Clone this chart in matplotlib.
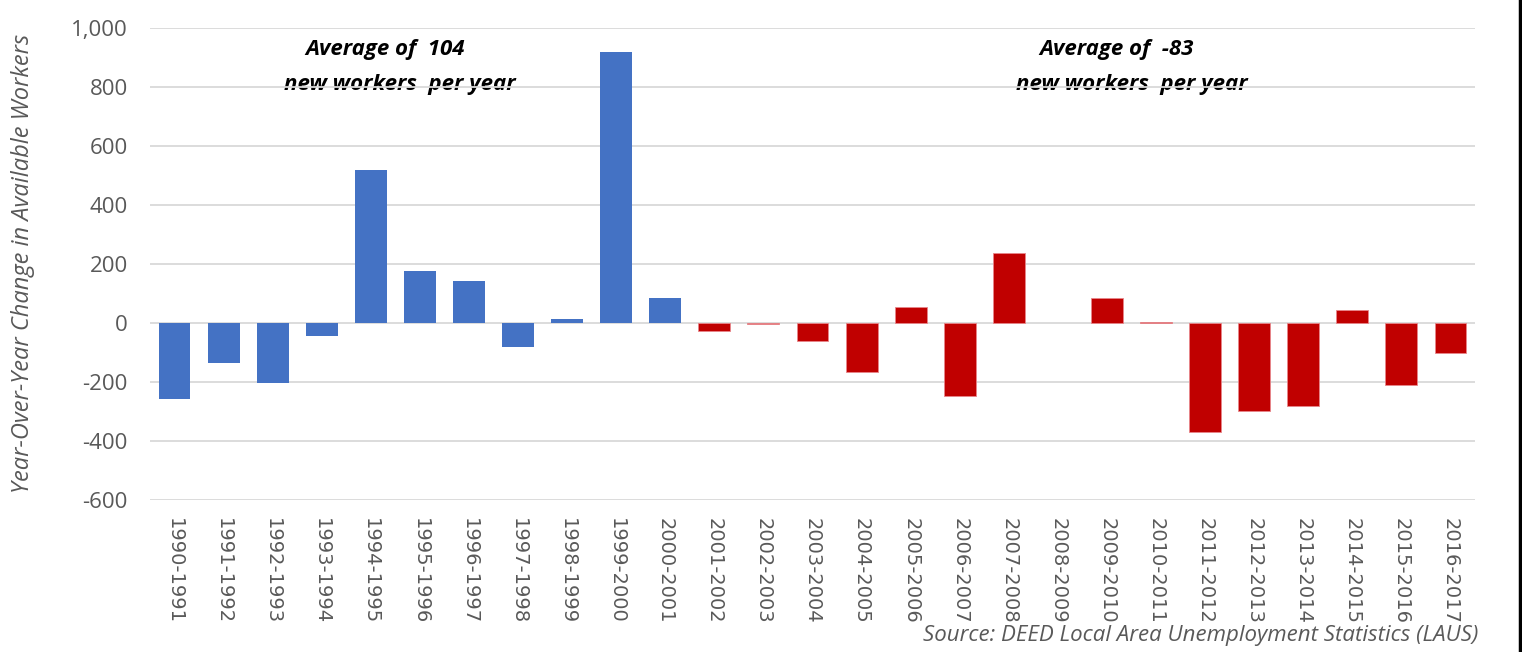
import matplotlib
matplotlib.use("Agg")
import matplotlib.pyplot as plt
from matplotlib.lines import Line2D

periods = ["1990-1991", "1991-1992", "1992-1993", "1993-1994", "1994-1995", "1995-1996",
           "1996-1997", "1997-1998", "1998-1999", "1999-2000", "2000-2001", "2001-2002",
           "2002-2003", "2003-2004", "2004-2005", "2005-2006", "2006-2007", "2007-2008",
           "2008-2009", "2009-2010", "2010-2011", "2011-2012", "2012-2013", "2013-2014",
           "2014-2015", "2015-2016", "2016-2017"]
changes = [-257, -135, -203, -44, 518, 175, 141, -81, 12, 917, 84, -26,
           -4, -63, -165, 53, -246, 236, 0, 84, 3, -370, -300, -283,
           43, -209, -103]
# first 11 periods are the earlier era (blue), rest later era (red)
n_early = 11
avg_early = 104
avg_late = -83

blue = "#4472C4"
red = "#C00000"
gray = "#595959"

fig = plt.figure(figsize=(15.22, 6.52), dpi=100)
ax = fig.add_axes([150/1522, 1-500/652, (1475-150)/1522, (500-27.7)/652])

x = list(range(len(periods)))
colors = [blue if i < n_early else red for i in x]
edges = [blue if i < n_early else "#E8868A" for i in x]
lws = [0 if (v == 0 or i < n_early) else 0.6 for i, v in enumerate(changes)]
ax.bar(x, changes, width=0.65, color=colors, edgecolor=edges, linewidth=lws, zorder=3)

ax.set_xlim(-0.5, len(periods) - 0.5)
ax.set_ylim(-600, 1000)
yt = list(range(-600, 1001, 200))
ax.set_yticks(yt)
ax.set_yticklabels([f"{v:,}" for v in yt], fontfamily="Open Sans", fontsize=16, color=gray)
ax.set_xticks(x)
ax.set_xticklabels(periods, rotation=270, fontsize=14, color=gray, fontfamily="DejaVu Sans")
ax.tick_params(axis="both", length=0)
ax.tick_params(axis="y", pad=16)
ax.tick_params(axis="x", pad=13)
ax.grid(axis="y", color="#D9D9D9", linewidth=1.3, zorder=0)
for s in ax.spines.values():
    s.set_visible(False)

ax.set_ylabel("Year-Over-Year Change in Available Workers", fontfamily="Open Sans",
              fontstyle="italic", fontsize=17, color=gray, labelpad=26)

ann = dict(ha="center", va="center", fontsize=16, fontweight="bold", fontstyle="italic",
           fontfamily="Open Sans", color="black", zorder=1)
ax.text(4.3, 925, f"Average of  {avg_early}", **ann)
ax.text(4.6, 808, "new workers  per year", **ann)
ax.text(19.2, 925, f"Average of  {avg_late}", **ann)
ax.text(19.5, 808, "new workers  per year", **ann)

fig.text(1478/1522, 1-636/652, "Source: DEED Local Area Unemployment Statistics (LAUS)",
         ha="right", va="center", fontsize=16, fontstyle="italic", fontfamily="Open Sans",
         color=gray)

fig.add_artist(Line2D([1520/1522, 1520/1522], [0, 1], color="black", linewidth=2.5,
                      transform=fig.transFigure))

fig.savefig("out.png", dpi=100)
